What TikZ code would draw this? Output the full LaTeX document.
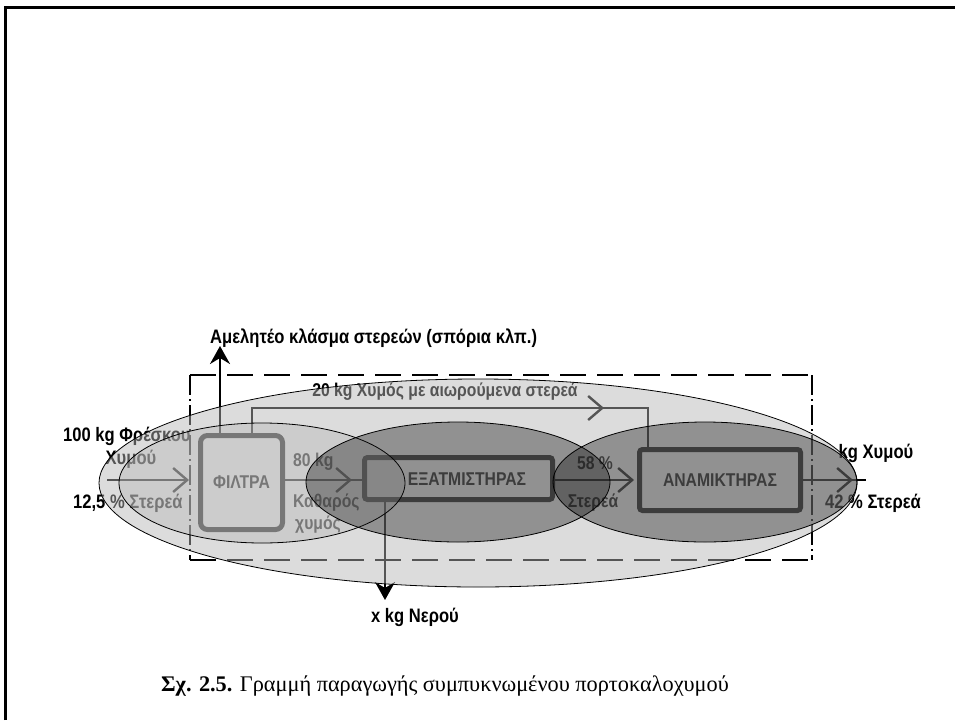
\documentclass[tikz,border=0pt]{standalone}
\usepackage{fontspec}
\setmainfont{Liberation Serif}
\newfontfamily\lab[FakeStretch=0.85]{Liberation Sans}
\usetikzlibrary{arrows.meta}
\begin{document}
\begin{tikzpicture}[x=1pt,y=-1pt,
  lbl/.style={font=\lab\bfseries\fontsize{19.5}{22}\selectfont, inner sep=0pt},
  ilbl/.style={font=\lab\bfseries\fontsize{18.5}{21}\selectfont, inner sep=0pt},
  boxst/.style={draw, line width=5pt, rounded corners=3pt, inner sep=0pt, font=\lab\bfseries\fontsize{18.5}{21}\selectfont},
  flowline/.style={line width=2.4pt},
  openhead/.style={line width=2.4pt, -{Straight Barb[length=14pt,width=24pt]}},
  fullhead/.style={line width=2.4pt, -{Stealth[length=18pt,width=20pt,inset=6pt]}},
  frame/.style={line width=2.4pt, dash pattern=on 26pt off 11pt},
  sideframe/.style={line width=2.4pt, dash pattern=on 20pt off 4pt on 2pt off 4pt},
  bigell/.style={draw=black, line width=0.8pt, fill=black!29, fill opacity=0.47},
  lightell/.style={draw=black, line width=0.8pt, fill=black!30, fill opacity=0.37},
  darkell/.style={draw=black, line width=0.8pt, fill=black!93, fill opacity=0.37}
]
\useasboundingbox (0,0) rectangle (955,720);
\draw[line width=3pt] (5.5,720) -- (5.5,7.5) -- (955,7.5);

% boxes
\node[boxst, rounded corners=7pt, minimum width=82pt, minimum height=94pt] (fil) at (241.5,482.5) {ΦΙΛΤΡΑ};
\node[boxst, minimum width=188pt, minimum height=42pt] (evap) at (458.5,478.5) {};
\node[ilbl] (evapt) at (467,479) {ΕΞΑΤΜΙΣΤΗΡΑΣ};
\node[boxst, minimum width=161pt, minimum height=61pt] (mix) at (720,480) {ΑΝΑΜΙΚΤΗΡΑΣ};

% dashed frame
\coordinate (ftl) at (190,375);
\coordinate (fbr) at (812,560);
\draw[frame] (ftl) -- (ftl -| fbr);
\draw[frame] (ftl |- fbr) -- (fbr);
\draw[sideframe] (ftl) -- (ftl |- fbr);
\draw[sideframe] (ftl -| fbr) -- (fbr);

% input
\coordinate (in) at (107,480);
\coordinate (intip) at (189,480);
\draw[openhead] (in) -- (intip);
\node[lbl, anchor=west] (l100) at (63,436) {100 kg Φρέσκου};
\node[lbl] (lchy) at (131,459) {Χυμού};
\node[lbl, anchor=west] (l125) at (73,503) {12,5 \% Στερεά};

% filter -> evaporator
\coordinate (fe) at (352,480);
\draw[flowline] (fil.east |- fe) -- (evap.west |- fe);
\draw[openhead] (fil.east |- fe) -- (fe);
\node[ilbl, anchor=west] (l80) at (293,462) {80 kg};
\node[ilbl, anchor=west] (lkath) at (293,503) {Καθαρός};
\node[ilbl, anchor=west] (lchym) at (295,525) {χυμός};

% evaporator -> mixer
\coordinate (em) at (634,480);
\draw[openhead] (evap.east |- em) -- (em);
\node[ilbl] (l58) at (595,463) {58 \%};
\node[ilbl] (lst) at (593,503) {Στερεά};

% output
\coordinate (otip) at (853,480);
\coordinate (oend) at (866,480);
\draw[flowline] (mix.east |- oend) -- (oend);
\draw[openhead] (mix.east |- otip) -- (otip);
\node[lbl] (lout) at (876,453) {kg Χυμού};
\node[lbl] (l42) at (873,503) {42 \% Στερεά};

% waste up
\coordinate (up) at (220,346);
\draw[fullhead] (fil.north -| up) -- (up);
\node[lbl, anchor=west] (ltop) at (210,338) {Αμελητέο κλάσμα στερεών (σπόρια κλπ.)};

% recycle
\coordinate (rs) at (252,408);
\coordinate (rc) at (648,408);
\coordinate (ra) at (604,408);
\draw[flowline] (fil.north -| rs) -- (rs) -- (rc) -- (mix.north -| rc);
\draw[openhead] (rs) -- (ra);
\node[ilbl] (lrec) at (445,392) {20 kg Χυμός με αιωρούμενα στερεά};

% water
\coordinate (w) at (385,600);
\draw[fullhead] (evap.south -| w) -- (w);
\node[lbl] (lw) at (415,617) {x kg Νερού};

% ellipses
\path[bigell] (478,483) ellipse [x radius=379, y radius=104];
\path[lightell] (262,483) ellipse [x radius=143, y radius=60];
\path[darkell] (458,482) ellipse [x radius=152, y radius=60];
\path[darkell] (705,482) ellipse [x radius=152, y radius=60];

% caption
\node[font=\fontsize{22.3}{26}\selectfont, inner sep=0pt] (cap) at (445,686) {\textbf{Σχ. 2.5.} Γραμμή παραγωγής συμπυκνωμένου πορτοκαλοχυμού};
\end{tikzpicture}
\end{document}
